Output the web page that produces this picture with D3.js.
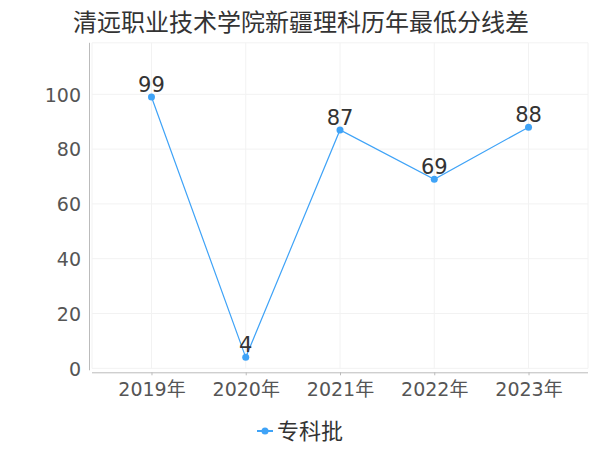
<!DOCTYPE html>
<html><head><meta charset="utf-8">
<script src="https://cdn.jsdelivr.net/npm/d3@7"></script>
<style>body{margin:0;background:#fff}svg{display:block;font-family:"Noto Sans CJK SC","DejaVu Sans",sans-serif}</style>
</head><body><svg id="c" width="600" height="450"></svg>
<script>
const title = "清远职业技术学院新疆理科历年最低分线差";
const categories = ["2019年","2020年","2021年","2022年","2023年"];
const seriesName = "专科批";
const values = [99, 4, 87, 69, 88];
const yTicks = [0, 20, 40, 60, 80, 100];

const svg = d3.select("#c");
const color = "#3fa3f7";
const L = 92, R = 588, T = 42.8, B = 368.3;
const x = d3.scalePoint().domain(categories).range([L, R]).padding(0.631);
const y = d3.scaleLinear().domain([0, d3.max(values) * 1.2]).range([B, T]);

svg.append("text").attr("x", 301).attr("y", 31).attr("text-anchor", "middle")
  .attr("font-size", 24).attr("fill", "#333").text(title);

// grid
const g = svg.append("g");
g.selectAll(".hg").data(yTicks.concat([y.domain()[1]])).join("line")
  .attr("x1", L).attr("x2", R).attr("y1", d => y(d)).attr("y2", d => y(d))
  .attr("stroke", "#f2f2f2").attr("stroke-width", 1);
g.selectAll(".vg").data(categories).join("line")
  .attr("x1", d => x(d)).attr("x2", d => x(d)).attr("y1", T).attr("y2", B)
  .attr("stroke", "#f2f2f2");
[L, R].forEach(v => g.append("line").attr("x1", v).attr("x2", v).attr("y1", T).attr("y2", B).attr("stroke", "#f2f2f2"));

// y axis
const ya = svg.append("g").attr("transform", "translate(89,0)")
  .call(d3.axisLeft(y).tickValues(yTicks).tickSize(0).tickPadding(8));
ya.select(".domain").attr("stroke", "#bbb").attr("d", `M0.5,${T}V${B+2}`);
ya.selectAll("text").attr("font-size", 19).attr("fill", "#555").attr("font-family", "DejaVu Sans, sans-serif").attr("dy", "0.36em");

// x axis
const xa = svg.append("g").attr("transform", `translate(0,${B + 4})`)
  .call(d3.axisBottom(x).tickSize(3).tickPadding(6));
xa.select(".domain").attr("stroke", "#bbb").attr("d", `M${L},0.5H${R}`);
xa.selectAll(".tick line").attr("stroke", "#bbb");
xa.selectAll("text").attr("font-size", 19).attr("fill", "#555").attr("dy", "0.75em")
  .attr("font-family", "'DejaVu Sans','Noto Sans CJK SC',sans-serif");

// line
const line = d3.line().x((d, i) => x(categories[i])).y(d => y(d));
svg.append("path").datum(values).attr("d", line).attr("fill", "none")
  .attr("stroke", color).attr("stroke-width", 1.2);
svg.selectAll(".pt").data(values).join("circle")
  .attr("cx", (d, i) => x(categories[i])).attr("cy", d => y(d)).attr("r", 3.5).attr("fill", color);
svg.selectAll(".lbl").data(values).join("text")
  .attr("x", (d, i) => x(categories[i])).attr("y", d => y(d) - 5)
  .attr("text-anchor", "middle").attr("font-size", 21).attr("fill", "#333")
  .attr("font-family", "DejaVu Sans, sans-serif").text(d => d);

// legend
const lg = svg.append("g").attr("transform", "translate(265,431)");
lg.append("line").attr("x1", -8).attr("x2", 8).attr("stroke", color).attr("stroke-width", 2);
lg.append("circle").attr("r", 3.5).attr("fill", color);
lg.append("text").attr("x", 12).attr("y", 0).attr("dy", "0.36em").attr("font-size", 22)
  .attr("fill", "#333").text(seriesName);
</script></body></html>
